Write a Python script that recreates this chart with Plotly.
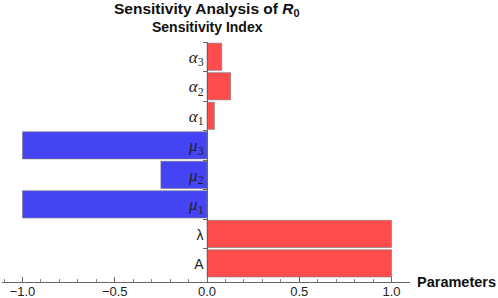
import plotly.graph_objects as go

GS = '<i>{}</i><sub>{}</sub>'
SANS = '<span style="font-family:\'Liberation Sans\';font-size:14px">{}</span>'
parameters = [SANS.format("A"), SANS.format("λ"), GS.format("μ", 1), GS.format("μ", 2), GS.format("μ", 3),
              GS.format("α", 1), GS.format("α", 2), GS.format("α", 3)]
sensitivity = [1.0, 1.0, -1.0, -0.25, -1.0, 0.04, 0.128, 0.08]
x_ticks = [-1.0, -0.5, 0.0, 0.5, 1.0]
x_tick_labels = ["−1.0", "−0.5", "0.0", "0.5", "1.0"]

RED = "rgb(255,77,77)"
BLUE = "rgb(68,68,245)"
colors = [RED if v > 0 else BLUE for v in sensitivity]

xmin, xmax = -1.111, 1.100
fig = go.Figure(go.Bar(
    x=sensitivity, y=list(range(len(parameters))), orientation="h",
    marker=dict(color=colors, line=dict(color="rgb(120,120,120)", width=0.6)),
    width=0.92,
))

fig.update_layout(
    width=498, height=298,
    margin=dict(l=2, r=88, t=42, b=16, autoexpand=False),
    paper_bgcolor="white", plot_bgcolor="white",
    showlegend=False,
    font=dict(family="Liberation Sans, Arial", color="#222"),
    xaxis=dict(range=[xmin, xmax], tickvals=x_ticks, ticktext=x_tick_labels,
               showgrid=False, zeroline=False, showline=True, linecolor="#666", linewidth=1,
               ticks="inside", ticklen=5, tickcolor="#666", tickfont=dict(size=13, color="#222"),
               ticklabelstandoff=-3,
               minor=dict(dtick=0.1, ticks="inside", ticklen=3, tickcolor="#888"),
               automargin=False, fixedrange=True),
    yaxis=dict(range=[-0.63, 7.5], tickvals=list(range(len(parameters))), ticktext=parameters,
               anchor="free", position=(0 - xmin) / (xmax - xmin),
               showgrid=False, zeroline=False, showline=True, linecolor="#666", linewidth=1,
               ticks="", tickfont=dict(size=17, color="#222", family="Liberation Serif, Times New Roman"),
               automargin=False, fixedrange=True),
)

# category boundary ticks on the y axis
fig.update_yaxes(minor=dict(tickvals=[i + 0.5 for i in range(len(parameters))],
                            ticks="outside", ticklen=4, tickcolor="#666"))

fig.add_annotation(text="<b>Sensitivity Analysis of <i>R</i><sub>0</sub></b>",
                   xref="paper", yref="paper", x=(0 - xmin) / (xmax - xmin), y=1,
                   yshift=42 - 9, showarrow=False, font=dict(size=15.5, color="#111"),
                   xanchor="center", yanchor="middle")
fig.add_annotation(text="<b>Sensitivity Index</b>",
                   xref="paper", yref="paper", x=(0 - xmin) / (xmax - xmin), y=1,
                   yshift=42 - 27, showarrow=False, font=dict(size=14, color="#111"),
                   xanchor="center", yanchor="middle")
fig.add_annotation(text="<b>Parameters</b>",
                   xref="paper", yref="paper", x=1, y=0, xshift=5,
                   showarrow=False, font=dict(size=14.5, color="#111"),
                   xanchor="left", yanchor="middle")

fig.write_html("out.html", config={"displayModeBar": False},
               post_script="document.body.style.margin='0';document.body.style.overflow='hidden';")
